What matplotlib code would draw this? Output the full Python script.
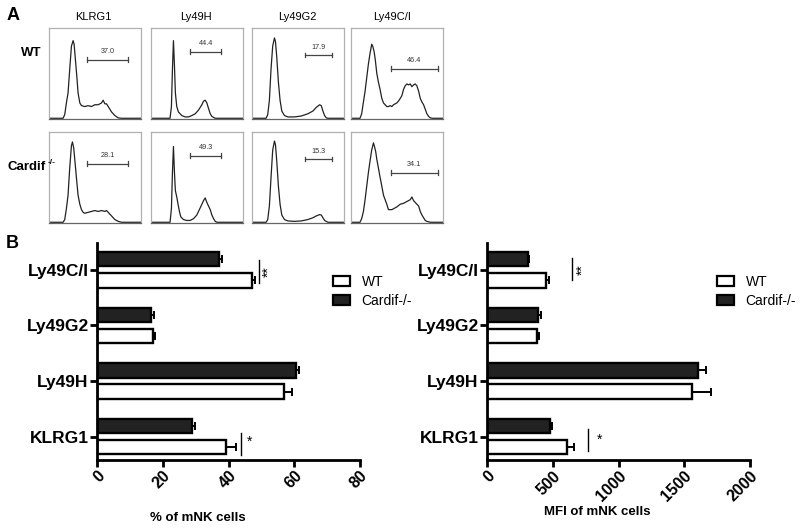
import matplotlib
matplotlib.use("Agg")
import matplotlib.pyplot as plt
from matplotlib.patches import Patch

plt.rcParams['font.family'] = ['Liberation Sans', 'DejaVu Sans']

W, H = 800, 528
fig = plt.figure(figsize=(8, 5.28), dpi=100)

def rect(x0, y0, x1, y1):
    return [x0 / W, 1 - y1 / H, (x1 - x0) / W, (y1 - y0) / H]

def fx(x):
    return x / W

def fy(y):
    return 1 - y / H

# ---------------- Panel A data (channel %, count %) ----------------
markers = ["KLRG1", "Ly49H", "Ly49G2", "Ly49C/I"]

klrg1_wt_x = [0, 15.3, 17.1, 18.9, 20.7, 22.5, 24.4, 26.2, 27.3, 28.7, 30.2, 31.6, 33.5, 35.3, 38.9, 42.5, 46.2, 49.8, 53.5, 57.1, 58.9, 60.7, 62.5, 64.4, 66.2, 68.0, 71.6, 75.3, 78.9, 100]
klrg1_wt_y = [0, 0, 4, 17, 28, 54, 80, 86, 82, 65, 47, 28, 17, 14, 13, 14, 13, 15, 15, 17, 20, 16, 16, 13, 10, 7, 3, 0.4, 0, 0]

ly49h_wt_x = [0, 20.7, 22.2, 23.3, 24.4, 25.5, 26.5, 28.0, 29.8, 33.5, 37.1, 40.7, 44.4, 48.0, 51.6, 55.3, 57.1, 58.9, 60.7, 62.5, 64.4, 66.2, 69.8, 100]
ly49h_wt_y = [0, 0, 13, 54, 86, 58, 28, 13, 7, 3, 1.5, 1.5, 3, 5, 9, 15, 19, 20, 17, 11, 5, 2, 0, 0]

ly49g2_wt_x = [0, 15.3, 17.1, 18.9, 20.7, 22.5, 24.4, 25.5, 26.9, 28.7, 30.5, 32.4, 35.3, 38.9, 46.2, 53.5, 60.7, 66.2, 69.8, 73.5, 75.3, 77.1, 78.9, 80.7, 82.5, 100]
ly49g2_wt_y = [0, 0, 4, 20, 55, 80, 89, 85, 68, 40, 20, 8, 3, 1.5, 1.5, 2.5, 5, 8, 12, 15, 14, 8, 3, 0.5, 0, 0]

ly49ci_wt_x = [0, 9.8, 11.6, 13.5, 15.3, 17.1, 18.9, 20.7, 22.5, 23.6, 25.1, 26.5, 28.0, 29.8, 31.6, 33.5, 35.3, 37.1, 38.9, 40.7, 42.5, 44.4, 46.2, 48.0, 49.8, 51.6, 53.5, 55.3, 57.1, 58.9, 60.7, 62.5, 64.4, 66.2, 68.0, 69.8, 71.6, 73.5, 75.3, 77.1, 78.9, 80.7, 82.5, 84.4, 86.2, 88.0, 100]
ly49ci_wt_y = [0, 0, 5, 18, 30, 45, 60, 72, 82, 80, 74, 64, 50, 40, 32, 22, 17, 15, 13, 13, 14, 13, 15, 16, 17, 19, 22, 25, 32, 36, 38, 37, 38, 35, 37, 38, 36, 30, 22, 18, 15, 10, 5, 2, 0.5, 0, 0]

klrg1_ko_x = [0, 15.3, 17.1, 18.9, 20.7, 22.5, 24.4, 25.5, 26.9, 28.7, 30.2, 31.6, 33.5, 35.3, 37.1, 38.9, 42.5, 46.2, 49.8, 53.5, 57.1, 60.7, 62.5, 64.4, 66.2, 68.0, 71.6, 75.3, 78.9, 100]
klrg1_ko_y = [0, 0, 3, 15, 30, 60, 85, 89, 82, 62, 45, 30, 20, 14, 11, 10, 11, 12, 13, 12, 13, 12, 13, 11, 9, 7, 3, 1, 0, 0]

ly49h_ko_x = [0, 20.7, 22.2, 23.3, 24.4, 25.5, 26.5, 28.0, 29.4, 30.9, 32.4, 35.3, 38.9, 42.5, 46.2, 49.8, 51.6, 53.5, 55.3, 57.1, 58.9, 60.7, 62.5, 64.4, 66.2, 68.0, 69.8, 71.6, 100]
ly49h_ko_y = [0, 0, 15, 55, 84, 55, 35, 28, 20, 12, 6, 3, 2, 2, 4, 8, 12, 16, 20, 24, 27, 22, 18, 14, 8, 4, 1, 0, 0]

ly49g2_ko_x = [0, 15.3, 17.1, 18.9, 20.7, 22.5, 24.4, 25.5, 26.9, 28.7, 30.5, 32.4, 35.3, 38.9, 46.2, 53.5, 60.7, 66.2, 69.8, 73.5, 75.3, 77.1, 78.9, 82.5, 100]
ly49g2_ko_y = [0, 0, 3, 18, 50, 80, 90, 86, 68, 40, 20, 8, 3, 1.5, 1, 1.5, 3, 5, 7, 8.5, 8, 5, 2, 0, 0]

ly49ci_ko_x = [0, 9.8, 11.6, 13.5, 15.3, 17.1, 18.9, 20.7, 22.5, 24.4, 25.5, 26.9, 28.0, 29.8, 31.6, 33.5, 35.3, 37.1, 38.9, 40.7, 42.5, 44.4, 46.2, 49.8, 53.5, 57.1, 60.7, 64.4, 66.2, 68.0, 69.8, 71.6, 73.5, 75.3, 77.1, 78.9, 80.7, 82.5, 86.2, 100]
ly49ci_ko_y = [0, 0, 4, 12, 25, 40, 55, 68, 80, 88, 84, 78, 70, 60, 50, 40, 30, 25, 20, 14, 14, 14, 15, 17, 20, 21, 23, 25, 28, 24, 22, 20, 18, 12, 8, 5, 2, 1, 0, 0]

wt_curves = [(klrg1_wt_x, klrg1_wt_y), (ly49h_wt_x, ly49h_wt_y), (ly49g2_wt_x, ly49g2_wt_y), (ly49ci_wt_x, ly49ci_wt_y)]
ko_curves = [(klrg1_ko_x, klrg1_ko_y), (ly49h_ko_x, ly49h_ko_y), (ly49g2_ko_x, ly49g2_ko_y), (ly49ci_ko_x, ly49ci_ko_y)]

gate_wt_pct = ["37.0", "44.4", "17.9", "46.4"]
gate_ko_pct = ["28.1", "49.3", "15.3", "34.1"]
gate_start = [41.5, 42.5, 57.1, 43.6]
gate_end = [86.2, 76.4, 87.3, 94.2]
gate_level = [65, 73.7, 70, 55]

# ---------------- Panel B data ----------------
categories = ["KLRG1", "Ly49H", "Ly49G2", "Ly49C/I"]
pct_wt = [39.2, 57.0, 17.1, 47.2]
pct_wt_err = [3.0, 2.4, 0.6, 1.0]
pct_ko = [29.0, 60.5, 16.5, 37.1]
pct_ko_err = [0.8, 0.9, 0.8, 0.8]
mfi_wt = [612, 1558, 383, 452]
mfi_wt_err = [48, 145, 13, 17]
mfi_ko = [482, 1607, 388, 312]
mfi_ko_err = [10, 56, 23, 6]
series_names = ["WT", "Cardif-/-"]

# ---------------- Panel A drawing ----------------
col_x = [(49, 141), (151, 243), (252, 344), (351, 443)]
row_y = [(28, 119), (132, 223)]
title_x = [93, 196, 297, 392]

for r, curves in enumerate([wt_curves, ko_curves]):
    pcts = gate_wt_pct if r == 0 else gate_ko_pct
    for c in range(4):
        ax = fig.add_axes(rect(col_x[c][0], row_y[r][0], col_x[c][1], row_y[r][1]))
        xs, ys = curves[c]
        ax.plot(xs, ys, color="#222222", lw=0.9)
        ax.set_xlim(0, 100)
        ax.set_ylim(-0.8, 100)
        ax.set_xticks([])
        ax.set_yticks([])
        for s in ax.spines.values():
            s.set_color("#b0b0b0")
            s.set_linewidth(0.9)
        ax.spines['bottom'].set_color("#666666")
        ax.plot([gate_start[c], gate_end[c]], [gate_level[c], gate_level[c]],
                color="#444444", lw=0.9)
        for gx in (gate_start[c], gate_end[c]):
            ax.plot([gx, gx], [gate_level[c] - 2.5, gate_level[c] + 2.5], color="#444444", lw=0.9)
        ax.text((gate_start[c] + gate_end[c]) / 2, gate_level[c] + 5, pcts[c],
                ha="center", va="bottom", fontsize=5.2, color="#333333")

for c in range(4):
    fig.text(fx(title_x[c]), fy(17), markers[c], ha="center", va="center", fontsize=8)

fig.text(fx(13), fy(15), "A", fontsize=13, fontweight="bold", ha="center", va="center")
fig.text(fx(31), fy(53), "WT", fontsize=9.5, fontweight="bold", ha="center", va="center")
fig.text(fx(7), fy(167), "Cardif", fontsize=9.5, fontweight="bold", ha="left", va="center")
fig.text(fx(48), fy(162), "-/-", fontsize=6, fontweight="bold", ha="left", va="center")
fig.text(fx(12), fy(244), "B", fontsize=13, fontweight="bold", ha="center", va="center")

# ---------------- Panel B drawing ----------------
ypos = list(range(len(categories)))
off = 0.19
bh = 0.26
dark = "#222222"

def bar_panel(ax, wt, wte, ko, koe, xmax, ticks):
    y_ko = [p + off for p in ypos]
    y_wt = [p - off for p in ypos]
    ax.barh(y_ko, ko, height=bh, color=dark, edgecolor="black", lw=1.7, zorder=2)
    ax.barh(y_wt, wt, height=bh, color="white", edgecolor="black", lw=1.7, zorder=2)
    ax.errorbar(ko, y_ko, xerr=[[0] * len(ko), koe], fmt="none", ecolor="black",
                elinewidth=1.4, capsize=3, capthick=1.4, zorder=3)
    ax.errorbar(wt, y_wt, xerr=[[0] * len(wt), wte], fmt="none", ecolor="black",
                elinewidth=1.4, capsize=3, capthick=1.4, zorder=3)
    ax.set_xlim(0, xmax)
    ax.set_ylim(-0.42, 3.48)
    ax.set_yticks(ypos)
    ax.set_yticklabels(categories, fontsize=12.5, fontweight="bold")
    ax.set_xticks(ticks)
    ax.set_xticklabels([str(t) for t in ticks], fontsize=11.5, fontweight="bold",
                       rotation=45, ha="right", va="top", rotation_mode="anchor")
    for s in ["top", "right"]:
        ax.spines[s].set_visible(False)
    for s in ["left", "bottom"]:
        ax.spines[s].set_linewidth(2)
    ax.tick_params(axis="both", width=2, length=5, pad=1)
    handles = [Patch(facecolor="white", edgecolor="black", lw=1.6),
               Patch(facecolor=dark, edgecolor="black", lw=1.6)]
    return handles

axL = fig.add_axes(rect(97, 243, 360, 460))
hL = bar_panel(axL, pct_wt, pct_wt_err, pct_ko, pct_ko_err, 80, [0, 20, 40, 60, 80])
axR = fig.add_axes(rect(487, 243, 750, 460))
hR = bar_panel(axR, mfi_wt, mfi_wt_err, mfi_ko, mfi_ko_err, 2000, [0, 500, 1000, 1500, 2000])

# significance marks
axL.plot([49.3, 49.3], [2.76, 3.18], color="black", lw=1)
axL.text(52.3, 2.97, "**", rotation=90, ha="center", va="center", fontsize=10)
axL.plot([43.7, 43.7], [-0.33, 0.06], color="black", lw=1)
axL.text(46.5, -0.1, "*", ha="center", va="center", fontsize=10)
axR.plot([647, 647], [2.82, 3.21], color="black", lw=1)
axR.text(730, 3.0, "**", rotation=90, ha="center", va="center", fontsize=10)
axR.plot([769, 769], [-0.26, 0.13], color="black", lw=1)
axR.text(855, -0.05, "*", ha="center", va="center", fontsize=10)

for h, xl in [(hL, 333), (hR, 717)]:
    fig.legend(h, series_names, loc="upper left", bbox_to_anchor=(fx(xl), fy(275)),
               frameon=False, fontsize=10, handlelength=1.25, handleheight=0.75,
               handletextpad=0.8, labelspacing=0.35, borderpad=0, borderaxespad=0)

fig.text(fx(198), fy(518), "% of mNK cells", fontsize=9.5, fontweight="bold", ha="center", va="center")
fig.text(fx(597), fy(512), "MFI of mNK cells", fontsize=9.5, fontweight="bold", ha="center", va="center")

fig.savefig("out.png", dpi=100, facecolor="white")
